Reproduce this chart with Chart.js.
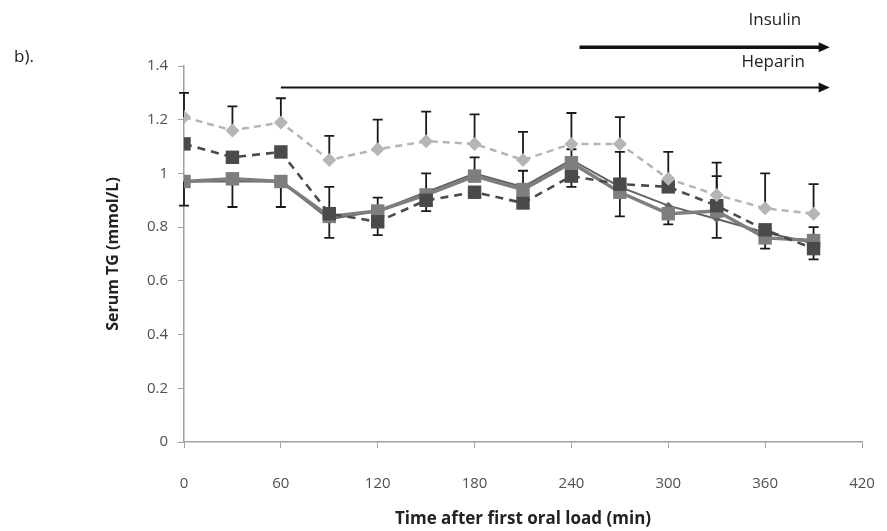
<!DOCTYPE html>
<html>
<head>
<meta charset="utf-8">
<script src="https://cdn.jsdelivr.net/npm/chart.js@4/dist/chart.umd.min.js"></script>
<style>
  html, body { margin: 0; padding: 0; background: #fff; }
  #wrap { width: 887px; height: 531px; position: relative; }
</style>
</head>
<body>
<div id="wrap"><canvas id="c" width="887" height="531"></canvas></div>
<script>
// ---- Data ----
const times = [0, 30, 60, 90, 120, 150, 180, 210, 240, 270, 300, 330, 360, 390];

const seriesA = [1.21, 1.16, 1.19, 1.05, 1.09, 1.12, 1.11, 1.05, 1.11, 1.11, 0.98, 0.92, 0.87, 0.85];
const seriesB = [1.11, 1.06, 1.08, 0.85, 0.82, 0.90, 0.93, 0.89, 0.99, 0.96, 0.95, 0.88, 0.79, 0.72];
const seriesC = [0.97, 0.98, 0.97, 0.84, 0.86, 0.92, 0.99, 0.94, 1.04, 0.93, 0.85, 0.86, 0.76, 0.75];
const seriesD = [0.97, 0.97, 0.97, 0.83, 0.86, 0.93, 1.00, 0.95, 1.05, 0.95, 0.88, 0.83, 0.78, 0.74];

// error bar extents (plus / minus)
const errAPlus  = [0.09, 0.09, 0.09, 0.09, 0.11, 0.11, 0.11, 0.105, 0.115, 0.10, 0.10, 0.12, 0.13, 0.11];
const errAMinus = [0, 0, 0, 0, 0, 0, 0, 0, 0, 0, 0, 0, 0, 0];
const errBPlus  = [0, 0, 0, 0, 0, 0, 0, 0, 0, 0.12, 0, 0.11, 0, 0];
const errBMinus = [0, 0, 0, 0.09, 0.05, 0.04, 0, 0, 0.04, 0, 0, 0, 0, 0.04];
const errCPlus  = [0, 0, 0, 0, 0, 0, 0, 0, 0, 0, 0, 0, 0, 0];
const errCMinus = [0.09, 0.105, 0.095, 0, 0, 0, 0, 0, 0, 0.09, 0.04, 0.10, 0.04, 0];
const errDPlus  = [0, 0, 0, 0.12, 0.05, 0.07, 0.06, 0.06, 0.04, 0, 0, 0, 0, 0.06];
const errDMinus = [0, 0, 0, 0, 0, 0, 0, 0, 0, 0, 0, 0, 0, 0];

const xTicks = [0, 60, 120, 180, 240, 300, 360, 420];
const yTicks = [0, 0.2, 0.4, 0.6, 0.8, 1, 1.2, 1.4];

const xTitle = 'Time after first oral load (min)';
const yTitle = 'Serum TG (mmol/L)';
const panelLabel = 'b).';
const insulinLabel = 'Insulin';
const heparinLabel = 'Heparin';
const insulinArrow = { from: 245, to: 400, y: 1.47, labelX: 366, labelY: 1.57 };
const heparinArrow = { from: 60, to: 400, y: 1.32, labelX: 365, labelY: 1.415 };

const FONT = '"Open Sans", Lato, "Liberation Sans", sans-serif';

function pts(vals) { return times.map((t, i) => ({ x: t, y: vals[i] })); }

const errorSets = [
  { plus: errAPlus, minus: errAMinus },
  { plus: errBPlus, minus: errBMinus },
  { plus: errCPlus, minus: errCMinus },
  { plus: errDPlus, minus: errDMinus }
];

const errorBarPlugin = {
  id: 'errorBars',
  beforeDatasetsDraw(chart) {
    const ctx = chart.ctx;
    const xs = chart.scales.x, ys = chart.scales.y;
    ctx.save();
    ctx.strokeStyle = '#1a1a1a';
    ctx.lineWidth = 1.8;
    chart.data.datasets.forEach((ds, di) => {
      const e = errorSets[di];
      ds.data.forEach((p, i) => {
        const px = xs.getPixelForValue(p.x);
        const segs = [];
        if (e.plus[i] > 0) segs.push(p.y + e.plus[i]);
        if (e.minus[i] > 0) segs.push(p.y - e.minus[i]);
        segs.forEach(v => {
          const y0 = ys.getPixelForValue(p.y);
          const y1 = ys.getPixelForValue(v);
          ctx.beginPath();
          ctx.moveTo(px, y0); ctx.lineTo(px, y1);
          ctx.moveTo(px - 5, y1); ctx.lineTo(px + 5, y1);
          ctx.stroke();
        });
      });
    });
    ctx.restore();
  }
};

function drawArrow(ctx, x0, x1, y, w) {
  ctx.save();
  ctx.strokeStyle = '#111';
  ctx.fillStyle = '#111';
  ctx.lineWidth = w;
  ctx.beginPath();
  ctx.moveTo(x0, y); ctx.lineTo(x1 - 8, y);
  ctx.stroke();
  ctx.beginPath();
  ctx.moveTo(x1, y); ctx.lineTo(x1 - 11, y - 5); ctx.lineTo(x1 - 11, y + 5); ctx.closePath();
  ctx.fill();
  ctx.restore();
}

const annotPlugin = {
  id: 'annots',
  afterDraw(chart) {
    const ctx = chart.ctx;
    const xs = chart.scales.x, ys = chart.scales.y;
    drawArrow(ctx, xs.getPixelForValue(insulinArrow.from), xs.getPixelForValue(insulinArrow.to), ys.getPixelForValue(insulinArrow.y), 3.5);
    drawArrow(ctx, xs.getPixelForValue(heparinArrow.from), xs.getPixelForValue(heparinArrow.to), ys.getPixelForValue(heparinArrow.y), 2);
    ctx.save();
    ctx.fillStyle = '#222';
    ctx.font = '17px ' + FONT;
    ctx.textAlign = 'center';
    ctx.textBaseline = 'middle';
    ctx.fillText(insulinLabel, xs.getPixelForValue(insulinArrow.labelX), ys.getPixelForValue(insulinArrow.labelY));
    ctx.fillText(heparinLabel, xs.getPixelForValue(heparinArrow.labelX), ys.getPixelForValue(heparinArrow.labelY));
    ctx.textAlign = 'left';
    ctx.font = '17px ' + FONT;
    ctx.fillText(panelLabel, 14, 57);
    ctx.restore();
  }
};

new Chart(document.getElementById('c'), {
  type: 'line',
  data: {
    datasets: [
      { label: 'A', data: pts(seriesA), borderColor: '#b5b5b5', backgroundColor: '#b5b5b5', borderWidth: 2.5, borderDash: [7, 5], pointStyle: 'rectRot', pointRadius: 7, pointBorderWidth: 0, tension: 0 },
      { label: 'B', data: pts(seriesB), borderColor: '#4a4a4a', backgroundColor: '#4a4a4a', borderWidth: 2.6, borderDash: [8, 6], pointStyle: 'rect', pointRadius: 9.5, pointBorderWidth: 0, tension: 0 },
      { label: 'C', data: pts(seriesC), borderColor: '#7e7e7e', backgroundColor: '#7e7e7e', borderWidth: 3.5, pointStyle: 'rect', pointRadius: 9.5, pointBorderWidth: 0, tension: 0 },
      { label: 'D', data: pts(seriesD), borderColor: '#636363', backgroundColor: '#636363', borderWidth: 2, pointStyle: 'rectRot', pointRadius: 4, pointBorderWidth: 0, tension: 0 }
    ]
  },
  options: {
    responsive: false,
    animation: false,
    layout: { padding: { left: 104, right: 25, top: 66, bottom: 1 } },
    plugins: { legend: { display: false }, tooltip: { enabled: false } },
    scales: {
      x: {
        type: 'linear', min: 0, max: 420,
        afterBuildTicks(s) { s.ticks = xTicks.map(v => ({ value: v })); },
        afterFit(s) { s.height = 88; s.paddingLeft = 0; s.paddingRight = 0; },
        grid: { display: true, drawOnChartArea: false, drawTicks: true, tickLength: 6, color: '#a0a0a0', tickColor: '#a0a0a0' },
        border: { display: true, color: '#a0a0a0', width: 1.5 },
        ticks: { color: '#505050', font: { family: FONT, size: 15 }, padding: 27, maxRotation: 0 },
        title: { display: true, text: xTitle, color: '#222', font: { family: FONT, size: 17, weight: 'bold' }, padding: { top: 8, bottom: 1 } }
      },
      y: {
        min: 0, max: 1.4,
        afterBuildTicks(s) { s.ticks = yTicks.map(v => ({ value: v })); },
        afterFit(s) { s.width = 80; },
        grid: { display: true, drawOnChartArea: false, drawTicks: true, tickLength: 6, color: '#a0a0a0', tickColor: '#a0a0a0' },
        border: { display: true, color: '#a0a0a0', width: 1.5 },
        ticks: { color: '#505050', font: { family: FONT, size: 15 }, padding: 10, callback: v => String(+Number(v).toFixed(1)) },
        title: { display: true, text: yTitle, color: '#222', font: { family: FONT, size: 16, weight: 'bold' }, padding: { top: 0, bottom: 4 } }
      }
    }
  },
  plugins: [errorBarPlugin, annotPlugin]
});
</script>
</body>
</html>
